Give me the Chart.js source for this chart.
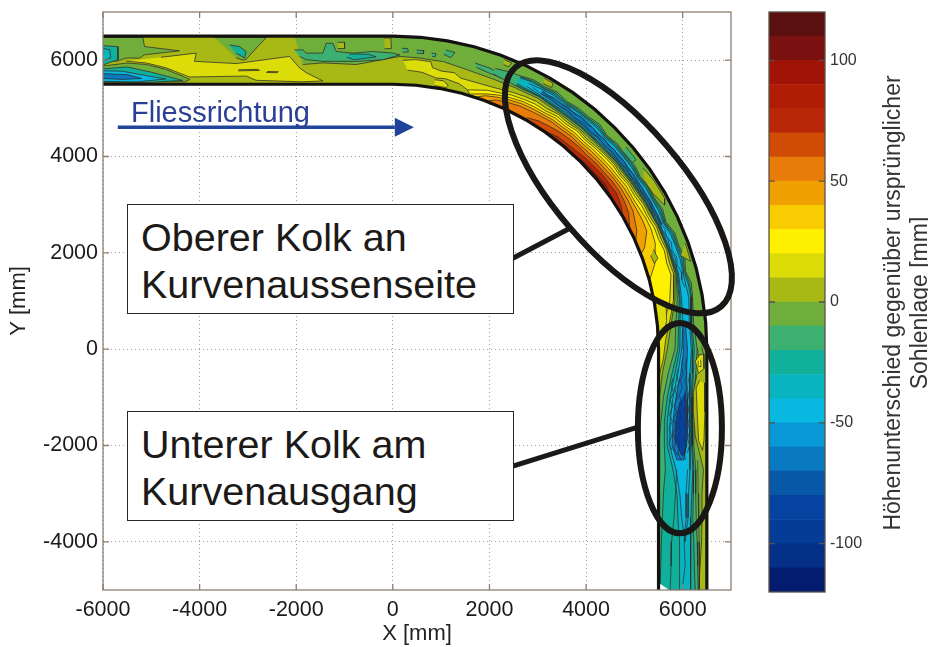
<!DOCTYPE html>
<html><head><meta charset="utf-8">
<script src="https://cdn.jsdelivr.net/npm/chart.js@4/dist/chart.umd.min.js"></script>
<style>
html,body{margin:0;padding:0;background:#fff;width:928px;height:647px;overflow:hidden;font-family:"Liberation Sans",Arial,sans-serif}
canvas{position:absolute;top:0}
.box{position:absolute;background:#fff;border:1.5px solid #2a2624;box-sizing:border-box;color:#1c1a18;font-size:39.5px;line-height:47px;padding:9px 0 0 13px;white-space:nowrap}
#flow{position:absolute;left:131px;top:96px;color:#2a3f96;font-size:29px;line-height:32px}
#cbTitle{position:absolute;left:906px;top:303px;width:520px;transform:translate(-50%,-50%) rotate(-90deg);text-align:center;color:#333;font-size:23px;line-height:27px;white-space:nowrap}
</style></head><body>
<canvas id="main" width="760" height="647" style="left:0"></canvas>
<canvas id="bar" width="188" height="647" style="left:740px"></canvas>
<div class="box" style="left:127px;top:204px;width:387px;height:110px">Oberer Kolk an<br>Kurvenaussenseite</div>
<div class="box" style="left:127px;top:411px;width:387px;height:110px">Unterer Kolk am<br>Kurvenausgang</div>
<div id="flow">Fliessrichtung</div>
<div id="cbTitle">Höhenunterschied gegenüber ursprünglicher<br>Sohlenlage [mm]</div>
<script>
// ---- axes
const xTicks=[-6000,-4000,-2000,0,2000,4000,6000], yTicks=[-4000,-2000,0,2000,4000,6000];
const xRange=[-6000,7000], yRange=[-5000,7000];
// ---- colour bar
const barLevels=[-120,-110,-100,-90,-80,-70,-60,-50,-40,-30,-20,-10,0,10,20,30,40,50,60,70,80,90,100,110,120];
const barColors=['#041c70','#043088','#043c98','#0444a0','#0858a8','#0878c0','#0898d8','#08b8e0','#08b4c0','#10b09a','#3cb070','#70ae3c','#a8b814','#dcdc08','#fff000','#f8cc00','#f0a000','#e87c08','#d04c04','#b82808','#b01c04','#a01408','#7a1010','#5a1010'];
const barTicks=[-100,-50,0,50,100];
// ---- channel geometry (mm)
const outerRadius=6500, innerRadius=5500;
const outerWallX=[-6000,0,567,1129,1682,2223,2747,3250,3728,4178,4596,4979,5325,5629,5891,6108,6279,6401,6475,6500,6500];
const outerWallY=[6500,6500,6475,6401,6279,6108,5891,5629,5325,4979,4596,4178,3728,3250,2747,2223,1682,1129,567,0,-5000];
const innerWallX=[-6000,0,479,955,1424,1881,2324,2750,3155,3535,3889,4213,4505,4763,4985,5168,5313,5416,5479,5500,5500];
const innerWallY=[5500,5500,5479,5416,5313,5168,4985,4763,4505,4213,3889,3535,3155,2750,2324,1881,1424,955,479,0,-5000];
const wallStations=[-6000,-4000,-2000,0,500,1000,1500,2000,2500,3000,3500,4000,4500,5000,5500,6000,6500,7000,7500,8000,8500,9000,10000,12000,14000];
// Contours in channel coordinates [station along channel, offset from outer wall]
// -- top reach
const greenLeft=[[-6000,30],[-5175,30],[-5140,218],[-4416,306],[-5140,388],[-5244,456],[-5520,456],[-5700,520],[-6000,520]];
const tealLeft=[[-6000,200],[-5690,220],[-5690,490],[-6000,600]];
const cyanLeft=[[-6000,260],[-5860,280],[-5840,450],[-6000,520]];
const scourGreen=[[-6000,620],[-5500,560],[-5100,590],[-4700,690],[-4200,900],[-4300,950],[-6000,950]];
const scourTeal=[[-6000,680],[-5500,640],[-5000,750],[-4350,920],[-5000,960],[-6000,960]];
const scourCyan=[[-6000,720],[-5600,730],[-5000,840],[-4700,890],[-5300,950],[-6000,940]];
const scourBlue=[[-6000,780],[-5500,800],[-5200,880],[-5600,900],[-6000,880]];
const yellowTop=[[-5520,520],[-5106,558],[-4692,660],[-4209,850],[-3036,830],[-2829,918],[-1863,950],[-1449,930],[-1794,760],[-1932,660],[-2139,422],[-3243,571],[-4105,524],[-4071,354],[-4800,440]];
const lensA=[[-3200,700],[-2800,690],[-2760,712],[-3200,722]];
const lensB=[[-2600,735],[-2370,740],[-2400,760],[-2620,755]];
const greenV=[[-3691,30],[-2622,30],[-3036,480],[-3100,500],[-3243,450]];
const tealV=[[-3381,184],[-3174,218],[-3036,320],[-3070,456],[-3243,354]];
const greenMain=[[-2035,0],[-1000,0],[0,0],[500,0],[1000,0],[1500,0],[2000,0],[2500,0],[3000,0],[3500,0],[4000,0],[4500,0],[5000,0],[5500,0],[6000,0],[6500,0],[7000,0],[7500,0],[8000,0],[8500,0],[9000,0],[11000,0],[14000,0],[14000,1000],[11000,1000],[10000,980],[9500,920],[9000,820],[8500,720],[8000,570],[7500,450],[7000,440],[6500,450],[6000,470],[5500,480],[5000,490],[4500,510],[4000,510],[3500,510],[3000,490],[2500,510],[2000,520],[1500,500],[1000,440],[500,430],[138,420],[-207,490],[-759,590],[-1449,557],[-1863,590]];
const tealBand=[[-2035,286],[-1863,286],[-1794,354],[-1449,354],[-1380,150],[-1242,150],[-1173,320],[-828,354],[-414,320],[0,354],[138,388],[-207,490],[-759,525],[-1449,525],[-1794,490],[-1932,422]];
const tealInner=[[-897,370],[-500,380],[-345,430],[-800,490],[-950,440]];
const olivePatchTop=[[-1140,130],[-1000,130],[-1000,260],[-1140,260]];
const oliveGap=[[-180,40],[-40,40],[-30,260],[-170,260]];
const blob1=[[170,250],[280,250],[300,320],[190,330]];
const blob2=[[450,270],[590,270],[590,330],[460,335]];
const blob3=[[1000,190],[1180,210],[1120,330],[980,290]];
const blob4=[[740,300],[830,300],[820,370],[760,365]];
const tealEntry=[[1600,320],[1900,330],[2200,380],[2200,440],[1900,430],[1650,400]];
// -- trough through the bend and lower reach
const trough10Top=[[2000,300],[2250,260],[2500,240],[2750,195],[3000,210],[3250,170],[3500,220],[3750,190],[4000,200],[4250,165],[4500,230],[4750,190],[5000,220],[5250,200],[5500,250],[5750,215],[6000,240],[6250,205],[6500,260],[6750,185],[7000,200],[7250,160],[7500,230],[7750,170],[8000,200],[8500,250],[9000,200],[9500,230],[10000,270],[10500,260],[11000,270],[11500,230],[12000,230],[12500,220],[13000,200],[13500,190],[14000,180]];
const trough10Bot=[[14000,1000],[13000,1000],[12000,1000],[11000,1000],[10500,950],[10000,900],[9500,800],[9000,660],[8500,620],[8000,520],[7500,430],[7000,440],[6500,440],[6000,450],[5500,460],[5000,460],[4500,480],[4000,470],[3500,480],[3000,450],[2500,470],[2000,420]];
const trough20Top=[[2500,260],[2750,225],[3000,235],[3250,205],[3500,245],[3750,220],[4000,225],[4250,200],[4500,250],[4750,220],[5000,240],[5250,230],[5500,270],[5750,240],[6000,260],[6250,235],[6500,280],[6750,215],[7000,225],[7250,195],[7500,250],[7750,205],[8000,220],[8500,290],[9000,260],[9500,280],[10000,300],[10500,290],[11000,300],[11500,270],[12000,280],[12500,290],[13000,270],[13500,260],[14000,240]];
const trough20Bot=[[14000,970],[13000,940],[12500,920],[12000,900],[11500,860],[11000,880],[10500,880],[10000,820],[9500,720],[9000,600],[8500,560],[8000,480],[7500,415],[7000,425],[6500,425],[6000,440],[5500,445],[5000,450],[4500,465],[4000,460],[3500,465],[3000,440],[2500,450]];
const trough30Top=[[2500,280],[2750,250],[3000,255],[3250,235],[3500,265],[3750,245],[4000,245],[4250,230],[4500,270],[4750,245],[5000,260],[5250,255],[5500,290],[5750,265],[6000,280],[6250,265],[6500,300],[6750,245],[7000,245],[7250,230],[7500,270],[7750,235],[8000,240],[8500,310],[9000,290],[9500,300],[10000,320],[10500,310],[11000,320],[11500,290],[12000,310],[12500,330],[13000,340],[13500,340],[14000,330]];
const trough30Bot=[[14000,560],[13500,560],[13000,570],[12500,600],[12000,620],[11500,700],[11000,820],[10500,820],[10000,760],[9500,660],[9000,560],[8500,530],[8000,460],[7500,400],[7000,420],[6500,420],[6000,430],[5500,430],[5000,440],[4500,450],[4000,450],[3500,440],[3000,430],[2500,420]];
const trough40Top=[[2700,310],[3000,280],[3250,265],[3500,290],[3750,270],[4000,270],[4250,260],[4500,295],[4750,270],[5000,280],[5250,280],[5500,310],[5750,290],[6000,300],[6250,295],[6500,320],[6750,275],[7000,270],[7250,265],[7500,290],[8000,280],[8500,340],[9000,320],[9500,350],[10000,350],[10500,350],[11000,350],[11500,350],[12000,380],[12500,390],[13000,450]];
const trough40Bot=[[12500,520],[12000,560],[11500,640],[11000,770],[10500,760],[10000,700],[9500,600],[9000,520],[8500,470],[8000,430],[7500,380],[7000,400],[6500,400],[6000,410],[5500,410],[5000,420],[4500,430],[4000,430],[3500,420],[3000,410],[2700,380]];
const blueBend=[[3000,320],[3500,320],[4000,300],[4500,330],[5000,320],[5500,340],[6000,340],[6500,350],[6500,370],[6000,390],[5500,390],[5000,400],[4500,400],[4000,410],[3500,390],[3000,370]];
const blueLower=[[8500,420],[9000,400],[9500,420],[10000,400],[10500,400],[11000,420],[11300,480],[11300,620],[11000,720],[10500,700],[10000,640],[9500,540],[9000,480],[8500,470]];
const deepLower=[[9900,440],[10300,420],[10800,400],[11200,460],[11200,520],[10900,660],[10500,640],[10100,560]];
// -- raised bed on the inside of the bend (open contours closed along the inner wall)
const level10=[[200,500],[450,470],[750,480],[800,600],[1000,640],[1250,620],[1400,700],[1800,700],[2100,680],[2500,620],[2750,585],[3000,560],[3250,575],[3500,540],[3750,565],[4000,540],[4250,570],[4500,550],[4750,535],[5000,520],[5250,540],[5500,510],[5750,525],[6000,500],[6250,510],[6500,480],[6750,495],[7000,470],[7250,500],[7500,480],[8000,600],[8500,760],[8800,850],[9200,900],[9600,1000]];
const level10Lower=[[1700,1000],[1600,900],[1400,820],[1100,780],[900,800],[600,720],[300,700]];
const level20=[[1600,900],[2000,780],[2250,740],[2500,680],[2750,650],[3000,620],[3250,630],[3500,590],[3750,610],[4000,580],[4250,610],[4500,590],[4750,575],[5000,560],[5250,575],[5500,550],[5750,570],[6000,550],[6250,555],[6500,530],[6750,545],[7000,520],[7250,555],[7500,540],[8000,680],[8300,800],[8600,1000]];
const level30=[[1700,960],[2000,860],[2250,790],[2500,740],[2750,700],[3000,680],[3250,675],[3500,640],[3750,655],[4000,640],[4250,655],[4500,640],[4750,630],[5000,620],[5250,620],[5500,600],[5750,625],[6000,620],[6250,600],[6500,600],[6800,640],[7200,800],[7500,1000]];
const level40=[[1800,1000],[2000,900],[2250,840],[2500,790],[2750,750],[3000,730],[3250,720],[3500,700],[3750,705],[4000,690],[4250,700],[4500,690],[4750,680],[5000,670],[5250,670],[5500,660],[5750,670],[6000,680],[6250,680],[6500,700],[6800,880],[6900,1000]];
const level50=[[2050,1000],[2250,900],[2500,850],[2750,810],[3000,790],[3250,770],[3500,750],[3750,755],[4000,740],[4250,755],[4500,750],[4750,735],[5000,730],[5250,715],[5500,720],[5750,735],[6000,760],[6400,880],[6600,1000]];
const level60=[[3000,950],[3250,880],[3500,850],[3750,820],[4000,810],[4250,800],[4500,810],[4750,790],[5000,790],[5250,775],[5500,780],[5750,810],[6000,860],[6300,1000]];
const level70=[[3400,1000],[3800,920],[4500,880],[5000,850],[5500,850],[5800,920],[6000,1000]];
const level80=[[4200,1000],[4600,950],[5200,920],[5600,1000]];
const yellowIsland=[[880,840],[1060,830],[1180,900],[1150,960],[900,960]];
const yellowDrop=[[6900,720],[7100,700],[7180,800],[7000,820]];
// -- outer side islands
const oliveA=[[2100,60],[2250,70],[2220,170],[2120,160]];
const oliveB=[[2900,60],[3100,60],[3120,150],[2950,170]];
const oliveC=[[5400,100],[5700,60],[6100,60],[6200,130],[5900,220],[5600,230]];
const oliveD=[[7000,60],[7350,70],[7200,230]];
const tealSide=[[4900,100],[5200,110],[5200,210],[4950,210]];
const oliveStrip=[[9400,0],[11000,0],[14000,0],[14000,170],[13000,110],[12500,100],[12000,100],[11500,70],[11200,140],[10800,240],[10300,280],[9900,280],[9500,200]];
const yellowStrip=[[9700,50],[10300,40],[10900,60],[11100,90],[10900,170],[10300,200],[9800,220],[9650,150]];
const yellowSpot=[[9100,70],[9400,60],[9500,170],[9250,240],[9130,160]];
const brightSpot=[[9220,130],[9360,120],[9360,170],[9240,180]];
const greenSpotA=[[8950,110],[9100,70],[9130,180],[8980,190]];
const leftYellowFoot=[[8000,760],[8400,800],[8700,880],[8800,1000],[8000,1000]];
const notch=[[13850,1000],[14000,780],[14000,1000]];
// -- dense dark contour traces in the scour
const traceBendA=[[3000,300],[3150,325],[3300,295],[3450,330],[3600,305],[3750,340],[3900,300],[4050,345],[4200,310],[4350,350],[4500,315],[4650,350],[4800,320],[4950,360],[5100,325],[5250,365],[5400,335],[5550,375],[5700,345],[5850,380],[6000,350],[6150,385],[6300,345],[6450,380],[6600,340],[6750,375],[6900,325],[7050,365],[7200,320],[7350,360],[7500,315],[7650,350],[7800,320]];
const traceBendB=[[2800,340],[3000,375],[3200,345],[3400,390],[3600,360],[3800,405],[4000,370],[4200,415],[4400,375],[4600,420],[4800,380],[5000,415],[5200,375],[5400,410],[5600,385],[5800,410],[6000,380],[6200,410],[6400,375],[6600,400],[6800,360],[7000,395],[7200,355],[7400,385]];
const traceLowA=[[9200,420],[9350,450],[9500,410],[9650,455],[9800,415],[9950,465],[10100,420],[10250,470],[10400,420],[10550,470],[10700,425],[10850,480],[11000,430],[11150,470],[11300,440]];
const traceLowB=[[9200,500],[9350,525],[9500,490],[9650,545],[9800,510],[9950,570],[10100,525],[10250,585],[10400,530],[10550,590],[10700,540],[10850,610],[11000,560],[11150,600],[11300,540]];
const traceLowC=[[9400,590],[9550,625],[9700,580],[9850,660],[10000,600],[10150,680],[10300,620],[10450,690],[10600,630],[10750,700],[10900,640],[11050,690],[11200,610]];
const traceLowD=[[9500,350],[9650,375],[9800,345],[9950,385],[10100,350],[10250,385],[10400,350],[10550,390],[10700,350],[10850,395],[11000,360],[11150,400]];
const traceLowE=[[9600,700],[9750,740],[9900,690],[10050,760],[10200,710],[10350,770],[10500,720],[10650,780],[10800,730],[10950,780],[11100,720]];
const traceLower=[[11500,400],[12000,430],[12500,430],[13000,470],[13500,450],[13900,500]];
const traceLower2=[[11500,620],[12000,650],[12500,680],[13000,730],[13500,740],[14000,760]];
const traceLower3=[[11300,190],[12000,180],[12500,170],[13000,160],[13500,160],[14000,150]];
// ---- annotations (mm)
const arrowX=[-5694,41], arrowY=[4606,4606];
const arrowHeadX=[41,435,41], arrowHeadY=[4803,4606,4409];
const leaderUpperX=[2484,3665], leaderUpperY=[1888,2510];
const leaderLowerX=[2484,5072], leaderLowerY=[-2427,-1618];
const ellipseUpper=[4669,3371,3265,1313,49.3];
const ellipseLower=[5942,-1640,2178,870,90];

const C={g:'#70ae3c',t1:'#3cb070',t2:'#10b09a',c1:'#08b4c0',c2:'#08b8e0',b1:'#0878c0',b2:'#0444a0',o:'#a8b814',y1:'#dcdc08',y2:'#fff000',y3:'#f8cc00',y4:'#f0a000',y5:'#e87c08',y6:'#d04c04',y7:'#b82808',y8:'#a01408'};
function toXY(p){const s=p[0],d=p[1],r=outerRadius-d;
 if(s<=0)return{x:s,y:r};
 if(s>=9000)return{x:r,y:-(s-9000)};
 const t=(90-s/100)*Math.PI/180;return{x:r*Math.cos(t),y:r*Math.sin(t)};}
function wallBack(list){const a=list[0][0],b=list[list.length-1][0];
 const w=wallStations.filter(s=>s>a&&s<b).reverse().map(s=>[s,1000]);return list.concat(w);}
const LINE='rgba(45,45,45,.85)';
function area(pts,color){return{type:'scatter',showLine:true,data:pts.map(toXY),fill:'shape',backgroundColor:color,borderColor:LINE,borderWidth:.9,pointRadius:0,tension:0};}
function trace(pts){return{type:'scatter',showLine:true,data:pts.map(toXY),fill:false,borderColor:'rgba(45,45,50,.7)',borderWidth:1,pointRadius:0,tension:0};}
function pairs(xs,ys){return xs.map((x,i)=>({x,y:ys[i]}));}
function stroke(xs,ys,color,w){return{type:'scatter',showLine:true,data:pairs(xs,ys),fill:false,borderColor:color,borderWidth:w,pointRadius:0,tension:0};}
const baseBed=pairs(outerWallX,outerWallY).concat(pairs(innerWallX,innerWallY).reverse());
const layered=[
 {type:'scatter',showLine:true,data:baseBed,fill:'shape',backgroundColor:C.o,borderWidth:0,pointRadius:0,tension:0},
 area(greenLeft,C.g),area(tealLeft,C.t2),area(cyanLeft,C.c1),
 area(yellowTop,C.y1),
 area(scourGreen,C.g),area(scourTeal,C.t2),area(scourCyan,C.c2),area(scourBlue,C.b1),
 area(lensA,C.o),area(lensB,C.o),
 area(greenV,C.g),area(tealV,C.t2),
 area(greenMain,C.g),area(tealBand,C.t1),area(tealInner,C.t2),area(olivePatchTop,C.o),area(oliveGap,C.o),
 area(blob1,C.t1),area(blob2,C.t1),area(blob3,C.t1),area(blob4,C.t1),area(tealEntry,C.t1),
 area(trough10Top.concat(trough10Bot),C.t1),
 area(trough20Top.concat(trough20Bot),C.t2),
 area(trough30Top.concat(trough30Bot),C.c1),
 area(trough40Top.concat(trough40Bot),C.c2),
 area(blueBend,C.b1),area(blueLower,C.b1),area(deepLower,C.b2),
 area(level10.concat(wallStations.filter(s=>s>1700&&s<9600).reverse().map(s=>[s,1000])).concat(level10Lower),C.y1),
 area(wallBack(level20),C.y2),area(wallBack(level30),C.y3),area(wallBack(level40),C.y4),
 area(wallBack(level50),C.y5),area(wallBack(level60),C.y6),area(wallBack(level70),C.y7),area(wallBack(level80),C.y8),
 area(yellowIsland,C.y1),area(yellowDrop,C.o),
 area(oliveA,C.o),area(oliveB,C.o),area(oliveC,C.o),area(oliveD,C.o),area(tealSide,C.t1),
 area(oliveStrip,C.o),area(yellowStrip,C.y1),area(yellowSpot,C.y1),area(brightSpot,C.y2),area(greenSpotA,C.g),area(leftYellowFoot,C.y1),
 trace(traceBendA),trace(traceBendB),trace(traceLowA),trace(traceLowB),trace(traceLowC),trace(traceLowD),trace(traceLowE),trace(traceLower),trace(traceLower2),trace(traceLower3),
 {type:'scatter',showLine:true,data:notch.map(toXY),fill:'shape',backgroundColor:'#fff',borderWidth:0,pointRadius:0},
 stroke(outerWallX,outerWallY,'#141210',3.2),stroke(innerWallX,innerWallY,'#141210',3.2),
 stroke(leaderUpperX,leaderUpperY,'#1c1a18',5),stroke(leaderLowerX,leaderLowerY,'#1c1a18',5),
 stroke(arrowX,arrowY,'#1f4499',3.5),
 {type:'scatter',showLine:true,data:pairs(arrowHeadX,arrowHeadY),fill:'shape',backgroundColor:'#1f4499',borderWidth:0,pointRadius:0}
];
// Chart.js paints the first dataset last, so the paint-order list is reversed
const datasets=layered.slice().reverse();
function frameTicks(chart,axes,color){const c=chart.ctx,a=chart.chartArea;c.save();c.strokeStyle=color;c.lineWidth=1.3;
 c.strokeRect(a.left,a.top,a.width,a.height);
 if(axes.x)chart.scales.x.ticks.forEach(t=>{const p=chart.scales.x.getPixelForValue(t.value);c.beginPath();c.moveTo(p,a.bottom);c.lineTo(p,a.bottom-6);c.moveTo(p,a.top);c.lineTo(p,a.top+6);c.stroke();});
 chart.scales.y.ticks.forEach(t=>{const p=chart.scales.y.getPixelForValue(t.value);c.beginPath();c.moveTo(a.left,p);c.lineTo(a.left+6,p);c.moveTo(a.right,p);c.lineTo(a.right-6,p);c.stroke();});
 c.restore();}
const overlay={id:'overlay',afterDatasetsDraw(ch){const c=ch.ctx,X=ch.scales.x,Y=ch.scales.y;
 frameTicks(ch,{x:true},'#8a8070');
 [ellipseUpper,ellipseLower].forEach(e=>{const k=X.getPixelForValue(1)-X.getPixelForValue(0);
  c.save();c.beginPath();c.ellipse(X.getPixelForValue(e[0]),Y.getPixelForValue(e[1]),e[2]*k,e[3]*k,e[4]*Math.PI/180,0,2*Math.PI);
  c.lineWidth=6;c.strokeStyle='#1a1816';c.stroke();c.restore();});}};
const tickFont={family:'"Liberation Sans"',size:21.5};
const titleFont={family:'"Liberation Sans"',size:22};
const gridDots={color:'#a8a098',lineWidth:1,drawTicks:false};
function noOverhang(s){s.paddingTop=0;s.paddingBottom=0;s.paddingLeft=0;s.paddingRight=0;}
new Chart(document.getElementById('main'),{type:'scatter',data:{datasets},plugins:[overlay],options:{
 responsive:false,animation:false,layout:{padding:{top:12,right:29,left:0,bottom:0}},
 plugins:{legend:{display:false},tooltip:{enabled:false},filler:{drawTime:'beforeDatasetDraw'}},
 scales:{
  x:{type:'linear',min:xRange[0],max:xRange[1],afterBuildTicks(s){s.ticks=xTicks.map(value=>({value}));},
     ticks:{maxRotation:0,autoSkip:false,color:'#1a1a1a',font:tickFont,padding:7,callback:v=>String(v)},
     grid:gridDots,border:{dash:[1,3],display:false},
     title:{display:true,text:'X [mm]',color:'#222',font:titleFont,padding:{top:0,bottom:0}},afterFit(s){s.height=57;noOverhang(s);}},
  y:{type:'linear',min:yRange[0],max:yRange[1],afterBuildTicks(s){s.ticks=yTicks.map(value=>({value}));},
     ticks:{autoSkip:false,color:'#1a1a1a',font:tickFont,padding:5,callback:v=>String(v)},
     grid:gridDots,border:{dash:[1,3],display:false},
     title:{display:true,text:'Y [mm]',color:'#222',font:titleFont,padding:{top:6,bottom:0}},afterFit(s){s.width=103;noOverhang(s);}}
 }}});
const barSets=barColors.map((col,i)=>({data:[[barLevels[i],barLevels[i+1]]],backgroundColor:col,borderWidth:0,barPercentage:1,categoryPercentage:1}));
const barFrame={id:'barFrame',afterDatasetsDraw(ch){frameTicks(ch,{},'#5a5248');}};
new Chart(document.getElementById('bar'),{type:'bar',data:{labels:['mm'],datasets:barSets},plugins:[barFrame],options:{
 responsive:false,animation:false,layout:{padding:{top:12,left:29,right:0,bottom:55}},
 plugins:{legend:{display:false},tooltip:{enabled:false}},
 scales:{
  x:{stacked:true,display:false},
  y:{position:'right',min:barLevels[0],max:barLevels[barLevels.length-1],
     afterBuildTicks(s){s.ticks=barTicks.map(value=>({value}));},
     ticks:{color:'#333',font:{family:'"Liberation Sans"',size:16},padding:5,autoSkip:false},
     grid:{display:false,drawTicks:false},border:{display:false},
     afterFit(s){s.width=103;noOverhang(s);}}
 }}});
</script></body></html>
